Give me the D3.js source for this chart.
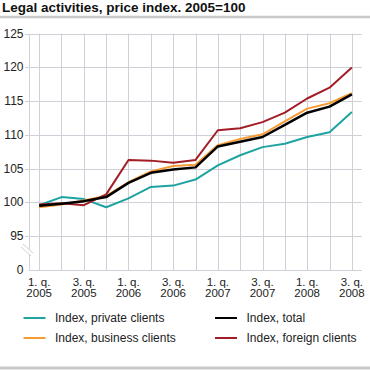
<!DOCTYPE html>
<html><head><meta charset="utf-8">
<script src="https://cdn.jsdelivr.net/npm/d3@7"></script>
<style>body{margin:0;background:#fff;}svg{display:block;font-family:"Liberation Sans",Arial,sans-serif;}</style>
</head><body><svg id="c" width="370" height="370"></svg>
<script>
const quarters = ["2005Q1","2005Q2","2005Q3","2005Q4","2006Q1","2006Q2","2006Q3","2006Q4","2007Q1","2007Q2","2007Q3","2007Q4","2008Q1","2008Q2","2008Q3"];
const xTickLabels = {"2005Q1":["1. q.","2005"],"2005Q3":["3. q.","2005"],"2006Q1":["1. q.","2006"],"2006Q3":["3. q.","2006"],"2007Q1":["1. q.","2007"],"2007Q3":["3. q.","2007"],"2008Q1":["1. q.","2008"],"2008Q3":["3. q.","2008"]};
const yTicks = [95,100,105,110,115,120,125];
const privateClients = [99.6,100.8,100.5,99.3,100.6,102.3,102.5,103.4,105.5,107.0,108.2,108.7,109.7,110.4,113.4];
const businessClients = [99.3,99.7,100.3,101.0,103.0,104.6,105.4,105.6,108.5,109.4,110.1,112.0,113.9,114.7,116.2];
const foreignClients = [99.7,99.9,99.6,101.2,106.3,106.2,105.9,106.3,110.7,111.0,111.9,113.3,115.4,117.0,120.0];
const totalIndex = [99.5,99.8,100.2,100.8,102.9,104.4,104.9,105.2,108.3,109.0,109.7,111.5,113.3,114.2,116.0];
const seriesNames = ["Index, private clients","Index, business clients","Index, foreign clients","Index, total"];
const seriesColors = ["#1fa3a0","#f79c34","#a31d26","#000000"];

const series = [
  {name:seriesNames[0], values:privateClients, color:seriesColors[0], w:2},
  {name:seriesNames[1], values:businessClients, color:seriesColors[1], w:2},
  {name:seriesNames[2], values:foreignClients, color:seriesColors[2], w:2},
  {name:seriesNames[3], values:totalIndex, color:seriesColors[3], w:2.5}
];

const svg = d3.select("#c");
const L = 29, R = 362, T = 33.7, B = 270;
const x = d3.scalePoint().domain(quarters).range([L, R]).padding(0.455);
const y = d3.scaleLinear().domain([90,125]).range([B, T]);

// title
svg.append("text").attr("x",2).attr("y",11.5).attr("font-size",13.5).attr("font-weight","bold").attr("fill","#111").text("Legal activities, price index. 2005=100");
svg.append("line").attr("x1",0).attr("x2",370).attr("y1",17).attr("y2",17).attr("stroke","#c8c8c8").attr("stroke-width",2.5);
svg.append("line").attr("x1",0).attr("x2",370).attr("y1",368).attr("y2",368).attr("stroke","#c8c8c8").attr("stroke-width",3);

const grid = "#cfd0d8";
// horizontal grid
svg.append("g").selectAll("line").data(yTicks).join("line")
  .attr("x1",L-4).attr("x2",R).attr("y1",d=>Math.round(y(d))+0.5).attr("y2",d=>Math.round(y(d))+0.5)
  .attr("stroke",grid).attr("stroke-width",1);
// vertical grid
svg.append("g").selectAll("line").data(quarters).join("line")
  .attr("x1",d=>Math.round(x(d))+0.5).attr("x2",d=>Math.round(x(d))+0.5).attr("y1",T).attr("y2",B)
  .attr("stroke",grid).attr("stroke-width",1);
// axes
svg.append("line").attr("x1",L+0.5).attr("x2",L+0.5).attr("y1",T).attr("y2",B).attr("stroke",grid);
svg.append("line").attr("x1",L).attr("x2",R).attr("y1",B+0.5).attr("y2",B+0.5).attr("stroke",grid);

// y labels
const yl = svg.append("g").attr("font-size",12).attr("fill","#222").attr("text-anchor","end");
yTicks.forEach(t=>{ yl.append("text").attr("x",23.5).attr("y",y(t)+4).text(t); });
yl.append("text").attr("x",23.5).attr("y",y(90)+4).text("0");

// axis break
svg.append("polygon").attr("points","21,246 24,244 34,254 31,256").attr("fill","#fff");
svg.append("line").attr("x1",21).attr("y1",247).attr("x2",31).attr("y2",256).attr("stroke","#cfd0d8").attr("stroke-width",1);
svg.append("line").attr("x1",23).attr("y1",244).attr("x2",33).attr("y2",253).attr("stroke","#cfd0d8").attr("stroke-width",1);

// x labels
const xl = svg.append("g").attr("font-size",11.5).attr("fill","#222").attr("text-anchor","middle");
quarters.forEach(q=>{
  if(xTickLabels[q]){
    xl.append("text").attr("x",x(q)).attr("y",286).text(xTickLabels[q][0]);
    xl.append("text").attr("x",x(q)).attr("y",297).text(xTickLabels[q][1]);
  }
});

// lines
const line = d3.line().x((d,i)=>x(quarters[i])).y(d=>y(d));
series.forEach(s=>{
  svg.append("path").attr("d",line(s.values)).attr("fill","none").attr("stroke",s.color).attr("stroke-width",s.w).attr("stroke-linejoin","round");
});

// legend
const legendItems = [
  {s:series[0], x:23.5, y:318},
  {s:series[3], x:215, y:318},
  {s:series[1], x:23.5, y:338},
  {s:series[2], x:215, y:338}
];
const lg = svg.append("g").attr("font-size",12).attr("fill","#222");
legendItems.forEach(it=>{
  lg.append("line").attr("x1",it.x).attr("x2",it.x+22).attr("y1",it.y).attr("y2",it.y).attr("stroke",it.s.color).attr("stroke-width",2);
  lg.append("text").attr("x",it.x+31.5).attr("y",it.y+4).text(it.s.name);
});
</script></body></html>
